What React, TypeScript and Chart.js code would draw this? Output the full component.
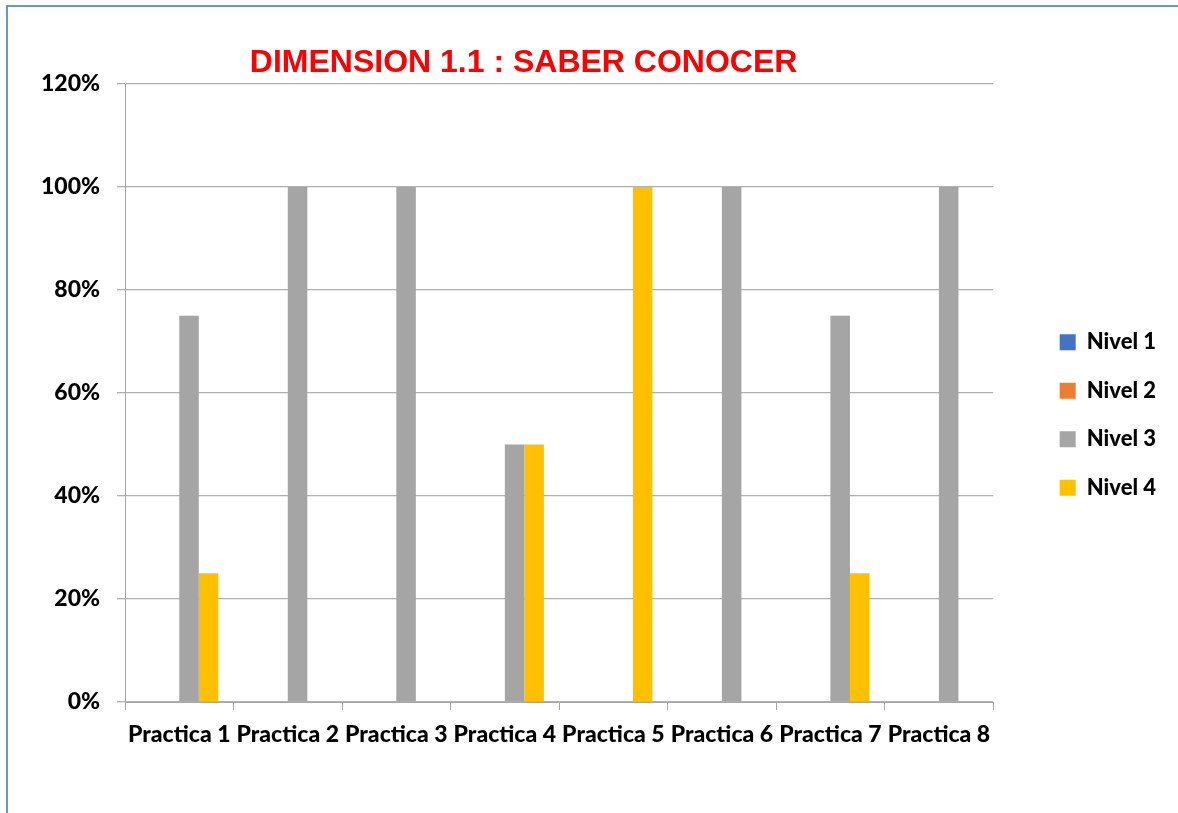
import React, { useEffect, useRef } from "react";
import { Chart, registerables } from "chart.js";

Chart.register(...registerables);

const titleText = "DIMENSION 1.1 : SABER CONOCER";
const categories = [
  "Practica 1",
  "Practica 2",
  "Practica 3",
  "Practica 4",
  "Practica 5",
  "Practica 6",
  "Practica 7",
  "Practica 8",
];
const seriesNames = ["Nivel 1", "Nivel 2", "Nivel 3", "Nivel 4"];
const nivel1 = [0, 0, 0, 0, 0, 0, 0, 0];
const nivel2 = [0, 0, 0, 0, 0, 0, 0, 0];
const nivel3 = [75, 100, 100, 50, 0, 100, 75, 100];
const nivel4 = [25, 0, 0, 50, 100, 0, 25, 0];
const seriesColors = ["#4472C4", "#ED7D31", "#A5A5A5", "#FFC000"];
const yMax = 120;
const yStep = 20;

const labelFont = { family: "Lato", weight: "900" as any, size: 23 };

const titlePlugin = {
  id: "customTitle",
  afterDraw(chart: any) {
    const { ctx, chartArea } = chart;
    ctx.save();
    ctx.font = "bold 32px 'Liberation Sans', Arial, sans-serif";
    ctx.fillStyle = "#FF0000";
    ctx.textAlign = "center";
    ctx.textBaseline = "alphabetic";
    ctx.fillText(titleText, (chartArea.left + chartArea.right) / 2 - 35.5, 64.7);
    ctx.restore();
  },
};

export default function App() {
  const canvasRef = useRef<HTMLCanvasElement | null>(null);

  useEffect(() => {
    if (!canvasRef.current) return;
    const allSeries = [nivel1, nivel2, nivel3, nivel4];
    const chart = new Chart(canvasRef.current, {
      type: "bar",
      data: {
        labels: categories,
        datasets: allSeries.map((d, i) => ({
          label: seriesNames[i],
          data: d,
          backgroundColor: seriesColors[i],
          borderWidth: 0,
          categoryPercentage: 0.72,
          barPercentage: 1,
        })),
      },
      options: {
        animation: false,
        responsive: true,
        maintainAspectRatio: false,
        layout: { padding: { top: 77, bottom: 67, left: 0, right: 12 } },
        plugins: {
          title: { display: false },
          tooltip: { enabled: false },
          legend: {
            position: "right",
            align: "center",
            labels: {
              boxWidth: 16,
              boxHeight: 16,
              padding: 26.5,
              color: "#000",
              font: { ...labelFont, size: 22 },
            },
          },
        },
        scales: {
          x: {
            grid: {
              display: true,
              drawOnChartArea: false,
              drawTicks: true,
              tickLength: 8,
              color: "#A6A6A6",
              lineWidth: 1,
              offset: true,
            },
            border: { display: true, color: "#A6A6A6", width: 1 },
            ticks: {
              color: "#000",
              font: { ...labelFont, lineHeight: 1 },
              padding: 13,
              maxRotation: 0,
              minRotation: 0,
              autoSkip: false,
            },
            afterFit: (s: any) => {
              s.height = 44;
            },
          },
          y: {
            min: 0,
            max: yMax,
            ticks: {
              stepSize: yStep,
              color: "#000",
              font: labelFont,
              padding: 17,
              callback: (v: any) => v + "%",
            },
            grid: {
              color: "#B0B0B0",
              lineWidth: 1.3,
              tickLength: 8,
              drawTicks: true,
            },
            border: { display: true, color: "#A6A6A6", width: 1 },
            afterFit: (s: any) => {
              s.width = 117;
            },
          },
          gap: {
            type: "linear",
            axis: "y",
            position: "right",
            display: true,
            grid: { display: false },
            border: { display: false },
            ticks: { display: false },
            afterFit: (s: any) => {
              s.width = 40;
            },
          },
        },
      } as any,
      plugins: [titlePlugin],
    });
    return () => chart.destroy();
  }, []);

  return (
    <div style={{ position: "absolute", left: 0, top: 0, width: 1178, height: 813, background: "#fff" }}>
      <div
        style={{
          position: "absolute",
          left: 6,
          top: 5,
          width: 1172,
          height: 808,
          borderLeft: "2px solid #6A96D8",
          borderTop: "2px solid #6A96D8",
          boxSizing: "border-box",
        }}
      />
      <div style={{ position: "absolute", left: 8, top: 7, width: 1170, height: 806 }}>
        <canvas ref={canvasRef} />
      </div>
    </div>
  );
}
